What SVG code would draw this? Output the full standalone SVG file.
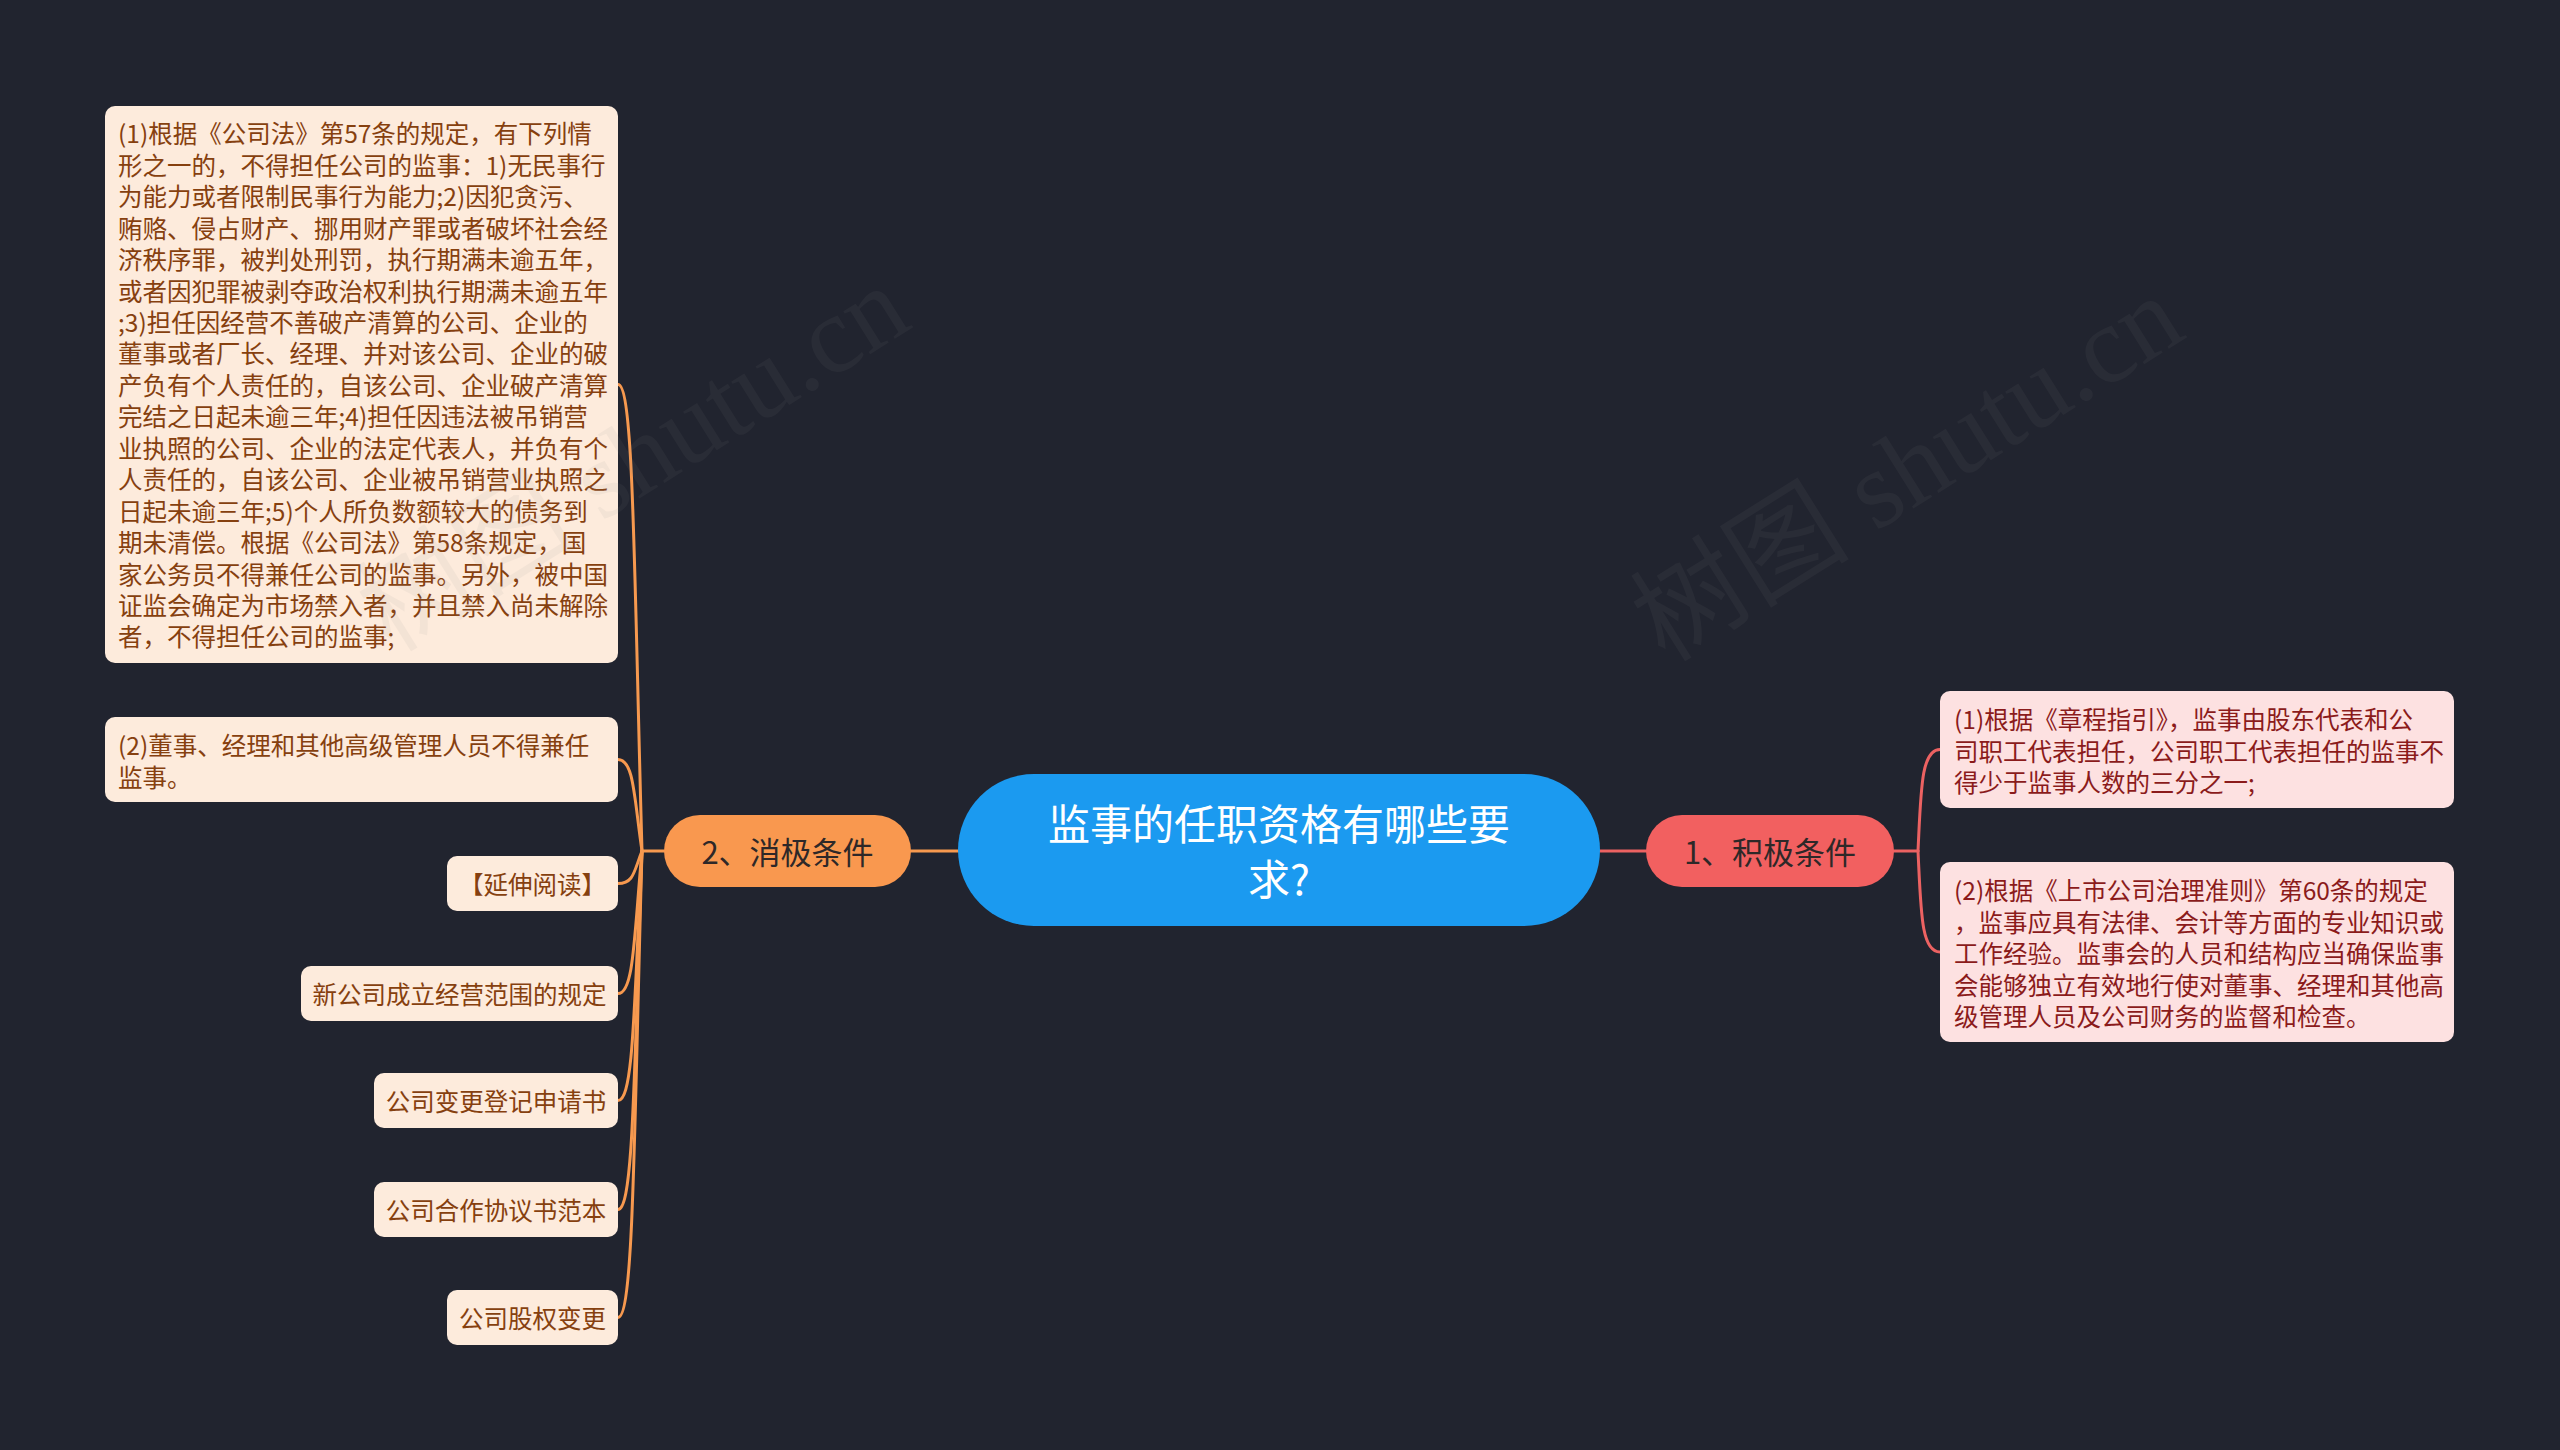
<svg xmlns="http://www.w3.org/2000/svg" width="2560" height="1450" viewBox="0 0 2560 1450">
<style>
.cjk{font-family:"Noto Sans CJK SC","Noto Sans",sans-serif;}
.lbox{fill:#fdebdc;}
.rbox{fill:#fde1e1;}
.lt{font-size:24.5px;fill:#86400f;}
.rt{font-size:24.5px;fill:#8b1b1b;}
.lc{fill:none;stroke:#f7994f;stroke-width:3;stroke-linecap:round;}
.rc{fill:none;stroke:#ec6262;stroke-width:3;stroke-linecap:round;}
.wm{font-family:"Liberation Serif","Noto Sans CJK SC",serif;font-size:110px;fill:#8a8a8a;opacity:0.08;}
</style>
<rect x="0" y="0" width="2560" height="1450" fill="#21242f"/>

<g id="connectors">
<path class="lc" d="M958,851 L911,851" stroke-width="4"/>
<path class="rc" d="M1600,851 L1646,851" stroke-width="4"/>
<path class="lc" d="M664,851 L642,851"/>
<path class="lc" d="M642,851 C634,571 634,384.5 618,384.5"/>
<path class="lc" d="M642,851 C634,797 634,759.5 618,759.5"/>
<path class="lc" d="M642,851 C634,871 634,883.5 618,883.5"/>
<path class="lc" d="M642,851 C634,937 634,993.5 618,993.5"/>
<path class="lc" d="M642,851 C634,1001 634,1100.5 618,1100.5"/>
<path class="lc" d="M642,851 C634,1066 634,1209.5 618,1209.5"/>
<path class="lc" d="M642,851 C634,1131 634,1317.5 618,1317.5"/>
<path class="rc" d="M1894,851 L1918,851"/>
<path class="rc" d="M1918,851 C1921,790 1921,749.5 1940,749.5"/>
<path class="rc" d="M1918,851 C1921,911.6 1921,952 1940,952"/>
</g>

<g id="root">
<rect x="958" y="774" width="642" height="152" rx="76" fill="#1b9af0"/>
<text class="cjk" x="1279" y="821" font-size="42" fill="#ffffff" text-anchor="middle" dominant-baseline="central">监事的任职资格有哪些要</text>
<text class="cjk" x="1279" y="876" font-size="42" fill="#ffffff" text-anchor="middle" dominant-baseline="central">求?</text>
</g>

<g id="neg">
<rect x="664" y="815" width="247" height="72" rx="36" fill="#f9984f"/>
<text class="cjk" x="787.5" y="850" font-size="31" fill="#2e2828" text-anchor="middle" dominant-baseline="central">2、消极条件</text>
</g>

<g id="pos">
<rect x="1646" y="815" width="248" height="72" rx="36" fill="#f26060"/>
<text class="cjk" x="1770" y="850" font-size="31" fill="#2e2828" text-anchor="middle" dominant-baseline="central">1、积极条件</text>
</g>

<g id="neg1">
<rect class="lbox" x="105" y="106" width="513" height="557" rx="10"/>
<text class="cjk lt" dominant-baseline="central">
<tspan x="118" y="132.2">(1)根据《公司法》第57条的规定，有下列情</tspan>
<tspan x="118" y="163.7">形之一的，不得担任公司的监事：1)无民事行</tspan>
<tspan x="118" y="195.1">为能力或者限制民事行为能力;2)因犯贪污、</tspan>
<tspan x="118" y="226.6">贿赂、侵占财产、挪用财产罪或者破坏社会经</tspan>
<tspan x="118" y="258">济秩序罪，被判处刑罚，执行期满未逾五年，</tspan>
<tspan x="118" y="289.5">或者因犯罪被剥夺政治权利执行期满未逾五年</tspan>
<tspan x="118" y="320.9">;3)担任因经营不善破产清算的公司、企业的</tspan>
<tspan x="118" y="352.4">董事或者厂长、经理、并对该公司、企业的破</tspan>
<tspan x="118" y="383.8">产负有个人责任的，自该公司、企业破产清算</tspan>
<tspan x="118" y="415.3">完结之日起未逾三年;4)担任因违法被吊销营</tspan>
<tspan x="118" y="446.7">业执照的公司、企业的法定代表人，并负有个</tspan>
<tspan x="118" y="478.2">人责任的，自该公司、企业被吊销营业执照之</tspan>
<tspan x="118" y="509.6">日起未逾三年;5)个人所负数额较大的债务到</tspan>
<tspan x="118" y="541.1">期未清偿。根据《公司法》第58条规定，国</tspan>
<tspan x="118" y="572.5">家公务员不得兼任公司的监事。另外，被中国</tspan>
<tspan x="118" y="604">证监会确定为市场禁入者，并且禁入尚未解除</tspan>
<tspan x="118" y="635.4">者，不得担任公司的监事;</tspan>
</text>
</g>

<g id="neg2">
<rect class="lbox" x="105" y="717" width="513" height="85" rx="10"/>
<text class="cjk lt" dominant-baseline="central">
<tspan x="118" y="744">(2)董事、经理和其他高级管理人员不得兼任</tspan>
<tspan x="118" y="775.5">监事。</tspan>
</text>
</g>

<g id="neg3">
<rect class="lbox" x="447" y="856" width="171" height="55" rx="10"/>
<text class="cjk lt" x="532.5" y="883.5" text-anchor="middle" dominant-baseline="central">【延伸阅读】</text>
</g>

<g id="neg4">
<rect class="lbox" x="301" y="966" width="317" height="55" rx="10"/>
<text class="cjk lt" x="459.5" y="993.5" text-anchor="middle" dominant-baseline="central">新公司成立经营范围的规定</text>
</g>

<g id="neg5">
<rect class="lbox" x="374" y="1073" width="244" height="55" rx="10"/>
<text class="cjk lt" x="496" y="1100.5" text-anchor="middle" dominant-baseline="central">公司变更登记申请书</text>
</g>

<g id="neg6">
<rect class="lbox" x="374" y="1182" width="244" height="55" rx="10"/>
<text class="cjk lt" x="496" y="1209.5" text-anchor="middle" dominant-baseline="central">公司合作协议书范本</text>
</g>

<g id="neg7">
<rect class="lbox" x="447" y="1290" width="171" height="55" rx="10"/>
<text class="cjk lt" x="532.5" y="1317.5" text-anchor="middle" dominant-baseline="central">公司股权变更</text>
</g>

<g id="pos1">
<rect class="rbox" x="1940" y="691" width="514" height="117" rx="10"/>
<text class="cjk rt" dominant-baseline="central">
<tspan x="1954" y="718">(1)根据《章程指引》，监事由股东代表和公</tspan>
<tspan x="1954" y="749.5">司职工代表担任，公司职工代表担任的监事不</tspan>
<tspan x="1954" y="781">得少于监事人数的三分之一;</tspan>
</text>
</g>

<g id="pos2">
<rect class="rbox" x="1940" y="862" width="514" height="180" rx="10"/>
<text class="cjk rt" dominant-baseline="central">
<tspan x="1954" y="889">(2)根据《上市公司治理准则》第60条的规定</tspan>
<tspan x="1954" y="920.5">，监事应具有法律、会计等方面的专业知识或</tspan>
<tspan x="1954" y="952">工作经验。监事会的人员和结构应当确保监事</tspan>
<tspan x="1954" y="983.5">会能够独立有效地行使对董事、经理和其他高</tspan>
<tspan x="1954" y="1015">级管理人员及公司财务的监督和检查。</tspan>
</text>
</g>

<g id="watermark">
<text class="wm" text-anchor="middle" transform="translate(653,490) rotate(-32)">树图 shutu.cn</text>
<text class="wm" text-anchor="middle" transform="translate(1927,500) rotate(-32)">树图 shutu.cn</text>
</g>
</svg>
